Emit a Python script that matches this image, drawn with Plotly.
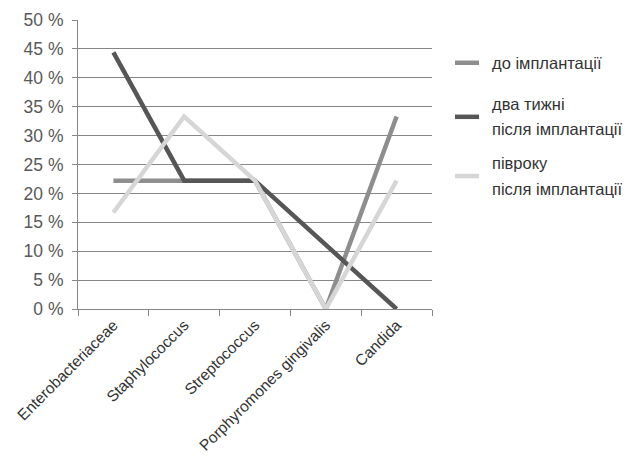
import plotly.graph_objects as go

categories = ["Enterobacteriaceae", "Staphylococcus", "Streptococcus",
              "Porphyromones gingivalis", "Candida"]
before = [22.2, 22.2, 22.2, 0.0, 33.3]
two_weeks = [44.4, 22.2, 22.2, 11.1, 0.0]
half_year = [16.7, 33.3, 22.2, 0.0, 22.2]

series_names = ["до імплантації", "два тижні після імплантації", "півроку після імплантації"]
legend_lines = [["до імплантації"], ["два тижні", "після імплантації"], ["півроку", "після імплантації"]]
series_colors = ["#8e8e8e", "#565656", "#d6d6d6"]
y_ticks = list(range(0, 51, 5))
y_labels = [f"{v} %" for v in y_ticks]

FONT = "Liberation Sans, Arial, sans-serif"

fig = go.Figure()
for name, vals, col in zip(series_names, [before, two_weeks, half_year], series_colors):
    fig.add_trace(go.Scatter(x=categories, y=vals, mode="lines", name=name,
                             line=dict(color=col, width=4.5), showlegend=False))

# legend drawn by hand: a short line sample and one text row per line
legend_centers = [0.852, 0.665, 0.460]
line_gap = 0.087
for center, lines, col in zip(legend_centers, legend_lines, series_colors):
    fig.add_shape(type="line", xref="paper", yref="paper",
                  x0=1.065, x1=1.133, y0=center, y1=center,
                  line=dict(color=col, width=4.5))
    n = len(lines)
    for i, txt in enumerate(lines):
        y = center + (n - 1) / 2 * line_gap - i * line_gap
        fig.add_annotation(xref="paper", yref="paper", x=1.165, y=y,
                           xanchor="left", yanchor="middle", showarrow=False,
                           text=txt, font=dict(family=FONT, size=16.5, color="#333333"))

fig.update_layout(
    width=625, height=458,
    margin=dict(l=78, r=193, t=20, b=149),
    paper_bgcolor="white", plot_bgcolor="white",
    font=dict(family=FONT, color="#404040"),
    showlegend=False,
)
fig.update_xaxes(
    type="category", tickson="boundaries", ticks="outside", ticklen=6,
    tickcolor="#868686", showline=True, linecolor="#868686", linewidth=1,
    showgrid=False, tickangle=-45, automargin=False,
    tickfont=dict(family=FONT, size=15.5, color="#333333"),
    range=[-0.5, 4.5],
)
fig.update_yaxes(
    range=[0, 50], tickmode="array", tickvals=y_ticks, ticktext=y_labels,
    ticks="outside", ticklen=5, tickcolor="#868686", ticklabelstandoff=5,
    showline=True, linecolor="#868686", linewidth=1, automargin=False,
    showgrid=True, gridcolor="#868686", gridwidth=1, zeroline=False,
    tickfont=dict(family=FONT, size=17.5, color="#595959"),
)

fig.write_html("out.html")
